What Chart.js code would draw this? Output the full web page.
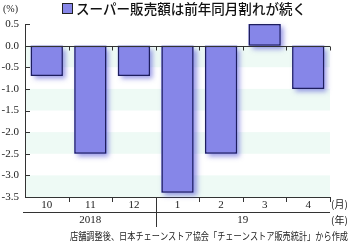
<!DOCTYPE html>
<html><head><meta charset="utf-8">
<script src="https://cdn.jsdelivr.net/npm/chart.js@4.4.1/dist/chart.umd.min.js"></script>
<style>html,body{margin:0;padding:0;background:#fff}#wrap{width:350px;height:242px;position:relative}</style>
</head><body><div id="wrap"><canvas id="c" width="350" height="242"></canvas></div>
<script>
const months = ['10','11','12','1','2','3','4'];
const yearGroups = [{label:'2018', from:0, to:2},{label:'19', from:3, to:6}];
const values = [-0.7,-2.5,-0.7,-3.4,-2.5,0.5,-1.0];
const yTicks = [0.5,0.0,-0.5,-1.0,-1.5,-2.0,-2.5,-3.0,-3.5];
const bands = [[0,-0.5],[-1.0,-1.5],[-2.0,-2.5],[-3.0,-3.5]];
const seriesName = 'スーパー販売額は前年同月割れが続く';
const unitY = '(%)', unitMonth = '(月)', unitYear = '(年)';
const source = '店舗調整後、日本チェーンストア協会「チェーンストア販売統計」から作成';

const serif = "'Liberation Serif','DejaVu Serif',serif";
const cjk = "'Noto Sans CJK JP',sans-serif";
const ink = '#222';

const decor = {
  id:'decor',
  beforeDatasetsDraw(chart){
    const {ctx, chartArea:a, scales:{x,y}} = chart;
    ctx.save();
    ctx.fillStyle = '#eefaf5';
    bands.forEach(([t,b])=>{ const y1=y.getPixelForValue(t), y2=y.getPixelForValue(b); ctx.fillRect(a.left+1, y1, a.right-a.left-1, y2-y1); });
    const meta = chart.getDatasetMeta(0);
    ctx.shadowColor = 'rgba(70,70,210,0.55)';
    ctx.shadowBlur = 5; ctx.shadowOffsetX = 3; ctx.shadowOffsetY = 3;
    ctx.fillStyle = '#8686e8';
    meta.data.forEach(el=>{ const top=Math.min(el.y,el.base), h=Math.abs(el.base-el.y); ctx.fillRect(el.x-el.width/2, top, el.width, h); });
    ctx.restore();
  },
  afterDatasetsDraw(chart){
    const {ctx, chartArea:a, scales:{x,y}} = chart;
    ctx.save();
    ctx.strokeStyle = '#333'; ctx.lineWidth = 1;
    const y0 = Math.round(y.getPixelForValue(0))+0.5;
    ctx.beginPath(); ctx.moveTo(a.left, y0); ctx.lineTo(a.right, y0); ctx.stroke();
    yTicks.forEach(v=>{ const py=Math.round(y.getPixelForValue(v))+0.5; ctx.beginPath(); ctx.moveTo(a.left, py); ctx.lineTo(a.left+5, py); ctx.stroke(); });
    const step = (x.getPixelForValue(1)-x.getPixelForValue(0));
    for(let i=1;i<=months.length;i++){
      const px = Math.round(x.getPixelForValue(i-1)+step/2)+0.5;
      ctx.beginPath(); ctx.moveTo(px, y0); ctx.lineTo(px, y0+4); ctx.stroke();
      ctx.beginPath(); ctx.moveTo(px, a.bottom); ctx.lineTo(px, a.bottom+5); ctx.stroke();
    }
    const hy = a.bottom + 15.5;
    ctx.beginPath(); ctx.moveTo(a.left-2, hy); ctx.lineTo(a.right, hy); ctx.stroke();
    yearGroups.slice(1).forEach(g=>{
      const px = Math.round(x.getPixelForValue(g.from)-step/2)+0.5;
      ctx.beginPath(); ctx.moveTo(px, a.bottom); ctx.lineTo(px, a.bottom+30); ctx.stroke();
    });
    ctx.fillStyle = ink; ctx.font = '11px '+serif; ctx.textAlign='center'; ctx.textBaseline='middle';
    yearGroups.forEach(g=>{ const cx=(x.getPixelForValue(g.from)+x.getPixelForValue(g.to))/2; ctx.fillText(g.label, cx, a.bottom+23); });
    ctx.textAlign='left';
    ctx.font = '10px '+cjk;
    ctx.fillText(unitMonth, a.right+1, a.bottom+7, 18);
    ctx.fillText(unitYear, a.right+1, a.bottom+23, 18);
    ctx.font='10px '+serif; ctx.fillText(unitY, 3, 9);
    ctx.font = '10px '+cjk; ctx.textAlign='right';
    ctx.fillText(source, 348, 236, 278);
    ctx.fillStyle = '#8686e8'; ctx.fillRect(62.5,3.5,10,10);
    ctx.strokeStyle='#222'; ctx.strokeRect(62.5,3.5,10,10);
    ctx.fillStyle = '#111'; ctx.font = '500 14px '+cjk; ctx.textAlign='left';
    ctx.fillText(seriesName, 76, 9, 230);
    ctx.restore();
  }
};

new Chart(document.getElementById('c'), {
  type:'bar',
  data:{labels:months, datasets:[{label:seriesName, data:values, backgroundColor:'#8686e8', borderColor:'#1e1e5e', borderWidth:1.5, borderSkipped:false, categoryPercentage:1, barPercentage:0.74}]},
  options:{
    responsive:false, animation:false, devicePixelRatio:1,
    layout:{padding:{top:24,right:20,left:0,bottom:0}},
    plugins:{legend:{display:false}, tooltip:{enabled:false}},
    scales:{
      x:{grid:{display:false, drawTicks:false}, border:{display:true,color:'#333',width:1},
         ticks:{font:{family:serif,size:11}, color:ink, padding:2},
         afterFit(s){s.height=45;}},
      y:{min:-3.5,max:0.5, grid:{display:false, drawTicks:false}, border:{display:true,color:'#333',width:1},
         ticks:{stepSize:0.5, font:{family:serif,size:11}, color:ink, padding:6, callback:v=>Number(v).toFixed(1)},
         afterFit(s){s.width=25;}}
    }
  },
  plugins:[decor]
});
</script></body></html>
